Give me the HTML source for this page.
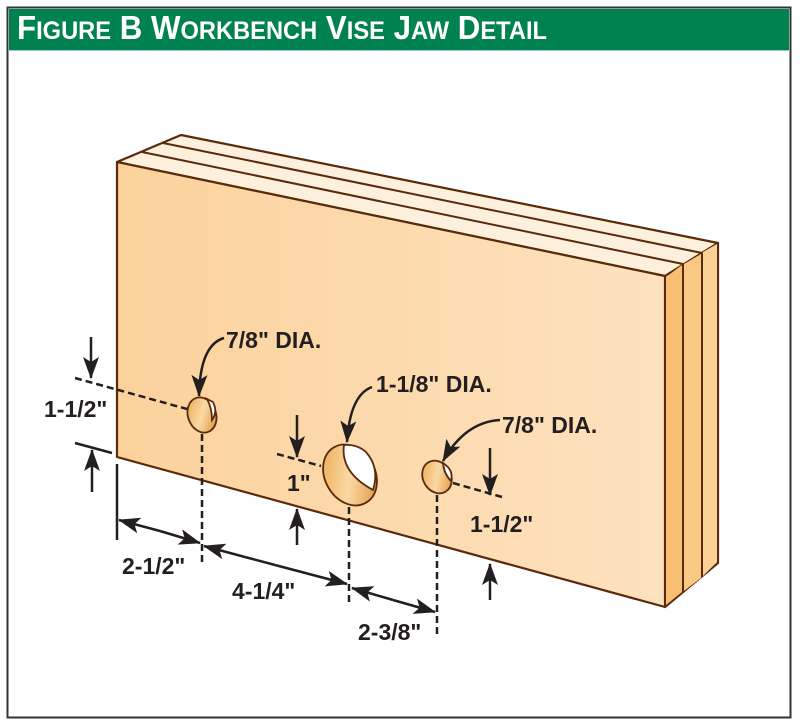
<!DOCTYPE html>
<html><head><meta charset="utf-8"><style>
html,body{margin:0;padding:0;background:#fff;}
svg{display:block;}
text{font-family:"Liberation Sans",sans-serif;font-weight:bold;fill:#231f20;}
</style></head><body>
<svg width="800" height="721" viewBox="0 0 800 721" xmlns="http://www.w3.org/2000/svg">
<defs>
<linearGradient id="face" x1="0" y1="0" x2="1" y2="0">
<stop offset="0" stop-color="#fcd29c"/><stop offset="1" stop-color="#fde2bf"/>
</linearGradient>
<linearGradient id="hole" x1="0" y1="0" x2="1" y2="1">
<stop offset="0" stop-color="#e9a444"/><stop offset="0.5" stop-color="#fbd9a5"/><stop offset="1" stop-color="#d88a30"/>
</linearGradient>
<marker id="ah" viewBox="0 0 22 16" refX="21" refY="8" markerWidth="22" markerHeight="16" markerUnits="userSpaceOnUse" orient="auto">
<path d="M0,0 L22,8 L0,16 L5,8 z" fill="#231f20"/>
</marker>
</defs>
<!-- frame -->
<rect x="7.5" y="7.5" width="783" height="710" fill="#fff" stroke="#333" stroke-width="2"/>
<rect x="9" y="9" width="780" height="41" fill="#008250"/>
<line x1="9" y1="50.5" x2="789" y2="50.5" stroke="#9fd0b8" stroke-width="1"/>
<text x="17" y="39" style="font-family:'Liberation Sans Narrow','Liberation Sans',sans-serif;fill:#fff;font-size:33px" textLength="530" lengthAdjust="spacingAndGlyphs">F<tspan font-size="25">IGURE</tspan> B  W<tspan font-size="25">ORKBENCH</tspan> V<tspan font-size="25">ISE</tspan> J<tspan font-size="25">AW</tspan> D<tspan font-size="25">ETAIL</tspan></text>

<!-- board -->
<g stroke="#5a2a0a" stroke-width="2.2" stroke-linejoin="round">
<polygon points="117,162 181,135 718,243 665,276" fill="#fdf0dc"/>
<polygon points="665,276 718,243 718,563 665,607" fill="#f9c987"/>
<polygon points="117,162 665,276 665,607 117,457" fill="url(#face)"/>
</g>
<polygon points="666,277 682,265 682,592 666,605" fill="#f6bf72"/>
<polygon points="684,264 701,254 701,578 684,591" fill="#f9c883"/>
<polygon points="703,252 717,244 717,562 703,576" fill="#fbd197"/>
<g stroke="#5a2a0a" stroke-width="2" fill="none">
<line x1="142" y1="152" x2="683" y2="264"/>
<line x1="163" y1="143" x2="702" y2="253"/>
<line x1="683" y1="264" x2="683" y2="592"/>
<line x1="702" y1="253" x2="702" y2="577"/>
</g>

<!-- holes -->
<g stroke="#5a2a0a" stroke-width="1.8">
<ellipse cx="202" cy="415" rx="14" ry="18" transform="rotate(-20 202 415)" fill="url(#hole)"/>
<path d="M207,399 Q212,408 212,420 Q218,412 213,402 z" fill="#fff"/>
<ellipse cx="350" cy="475" rx="25" ry="32" transform="rotate(-30 350 475)" fill="url(#hole)"/>
<path d="M344,445 Q340,472 373,490 Q380,468 366,452 Q357,444 344,445 z" fill="#fff"/>
<ellipse cx="437" cy="477" rx="14" ry="17" transform="rotate(-30 437 477)" fill="url(#hole)"/>
<path d="M443,463 Q444,474 451,481 Q454,470 443,463 z" fill="#fff"/>
</g>

<!-- dimension lines -->
<g stroke="#231f20" stroke-width="2.5" fill="none">
<g stroke-dasharray="7,4">
<line x1="75" y1="378" x2="187" y2="409"/>
<line x1="202" y1="434" x2="202" y2="562"/>
<line x1="277" y1="454" x2="321" y2="466"/>
<line x1="349" y1="507" x2="349" y2="606"/>
<line x1="453" y1="483" x2="502" y2="497"/>
<line x1="437" y1="495" x2="437" y2="636"/>
</g>
<line x1="75" y1="443" x2="112" y2="453"/>
<line x1="117" y1="464" x2="117" y2="540"/>
<line x1="91" y1="337" x2="91" y2="378" marker-end="url(#ah)"/>
<line x1="92" y1="492" x2="92" y2="450" marker-end="url(#ah)"/>
<line x1="297" y1="415" x2="297" y2="457" marker-end="url(#ah)"/>
<line x1="297" y1="545" x2="297" y2="509" marker-end="url(#ah)"/>
<line x1="490" y1="448" x2="490" y2="495" marker-end="url(#ah)"/>
<line x1="490" y1="600" x2="490" y2="564" marker-end="url(#ah)"/>
<line x1="160" y1="531" x2="119" y2="520" marker-end="url(#ah)"/>
<line x1="160" y1="531" x2="200" y2="543" marker-end="url(#ah)"/>
<line x1="275" y1="565" x2="204" y2="546" marker-end="url(#ah)"/>
<line x1="275" y1="565" x2="347" y2="584" marker-end="url(#ah)"/>
<line x1="393" y1="600" x2="352" y2="588" marker-end="url(#ah)"/>
<line x1="393" y1="600" x2="435" y2="612" marker-end="url(#ah)"/>
<path d="M224,338 Q200,345 199,396" marker-end="url(#ah)"/>
<path d="M372,387 Q350,395 347,442" marker-end="url(#ah)"/>
<path d="M500,420 Q465,422 443,461" marker-end="url(#ah)"/>
</g>

<!-- labels -->
<g font-size="23">
<text x="226" y="348">7/8" DIA.</text>
<text x="376" y="392">1-1/8" DIA.</text>
<text x="502" y="433">7/8" DIA.</text>
<text x="44" y="417">1-1/2"</text>
<text x="287" y="491">1"</text>
<text x="470" y="532">1-1/2"</text>
<text x="122" y="574">2-1/2"</text>
<text x="232" y="599">4-1/4"</text>
<text x="358" y="640">2-3/8"</text>
</g>
</svg>
</body></html>
